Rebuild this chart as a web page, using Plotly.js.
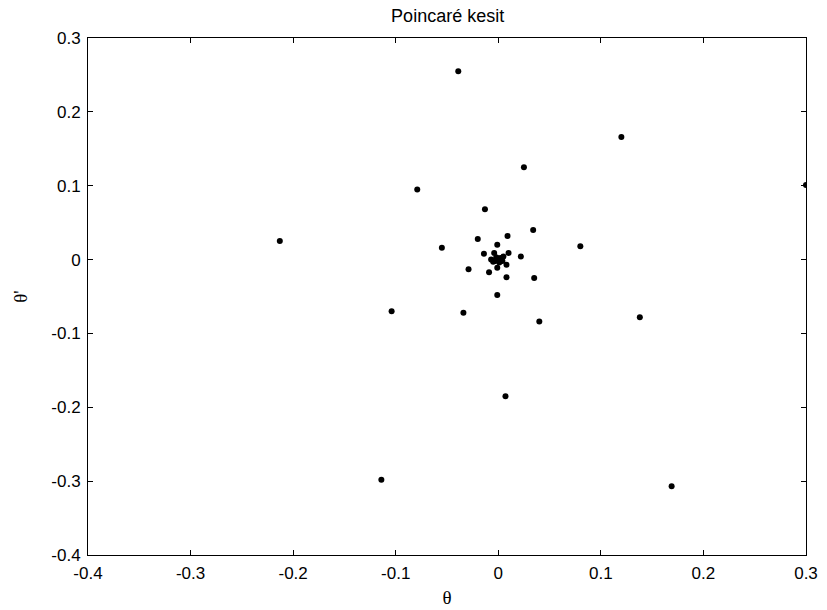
<!DOCTYPE html>
<html>
<head>
<meta charset="utf-8">
<script src="https://cdn.plot.ly/plotly-3.0.1.min.js"></script>
<style>html,body{margin:0;padding:0;background:#fff;}#chart{width:827px;height:610px;}</style>
</head>
<body>
<div id="chart"></div>
<script>
// Poincaré section points (theta, theta')
const thetaVals = [
  -0.039, 0.120, 0.025, -0.079, 0.300, -0.213, -0.104, 0.138, -0.034, 0.040,
  0.007, -0.114, 0.169, 0.080, 0.034, -0.013, -0.055, -0.020, 0.009, -0.029,
  -0.009, 0.008, 0.035, -0.001, 0.022, -0.014, -0.004, 0.010, -0.001, -0.007,
  0.008, -0.001, 0.002, 0.004, -0.002, 0.001, -0.003, 0.005, 0.000, -0.005
];
const thetaDotVals = [
  0.255, 0.166, 0.125, 0.095, 0.101, 0.025, -0.070, -0.078, -0.072, -0.084,
  -0.185, -0.298, -0.307, 0.018, 0.040, 0.068, 0.016, 0.028, 0.032, -0.013,
  -0.017, -0.024, -0.025, -0.048, 0.004, 0.008, 0.009, 0.009, 0.020, 0.000,
  -0.007, -0.011, 0.002, -0.002, 0.003, -0.004, -0.002, 0.004, 0.000, -0.003
];
const xTickVals = [-0.4, -0.3, -0.2, -0.1, 0, 0.1, 0.2, 0.3];
const xTickText = ["-0.4", "-0.3", "-0.2", "-0.1", "0", "0.1", "0.2", "0.3"];
const yTickVals = [-0.4, -0.3, -0.2, -0.1, 0, 0.1, 0.2, 0.3];
const yTickText = ["-0.4", "-0.3", "-0.2", "-0.1", "0", "0.1", "0.2", "0.3"];

const trace = {
  x: thetaVals, y: thetaDotVals, mode: 'markers', type: 'scatter',
  marker: {color: '#000', size: 6, line: {width: 0}},
  hoverinfo: 'x+y', showlegend: false
};
const axisCommon = {
  showgrid: false, zeroline: false, showline: true, linecolor: '#000', linewidth: 1,
  mirror: 'ticks', ticks: 'inside', ticklen: 5, tickcolor: '#000', tickwidth: 1,
  ticklabelstandoff: 3,
  tickfont: {family: 'Liberation Sans, Arial, sans-serif', size: 17, color: '#000'}
};
const layout = {
  width: 827, height: 610,
  margin: {l: 88, r: 21, t: 38, b: 55},
  paper_bgcolor: '#fff', plot_bgcolor: '#fff',
  title: {text: 'Poincaré kesit', x: 0.5413, xanchor: 'center', y: 0.975, yanchor: 'middle',
          font: {family: 'Liberation Sans, Arial, sans-serif', size: 18, color: '#000'}},
  xaxis: Object.assign({}, axisCommon, {
    range: [-0.4, 0.3], tickvals: xTickVals, ticktext: xTickText,
    title: {text: 'θ', standoff: 8, font: {family: 'Liberation Serif, Times New Roman, serif', size: 19, color: '#000'}}
  }),
  yaxis: Object.assign({}, axisCommon, {
    range: [-0.4, 0.3], tickvals: yTickVals, ticktext: yTickText,
    title: {text: "θ'", standoff: 18, font: {family: 'Liberation Serif, Times New Roman, serif', size: 19, color: '#000'}}
  })
};
Plotly.newPlot('chart', [trace], layout, {displayModeBar: false, staticPlot: true});
</script>
</body>
</html>
